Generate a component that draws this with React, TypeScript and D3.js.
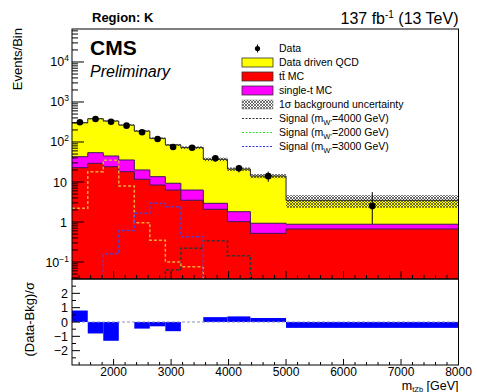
import React from "react";
import * as d3 from "d3";

// ---- data ----
const binEdges = [1276, 1550, 1820, 2090, 2360, 2630, 2900, 3170, 3560, 3980, 4380, 5000, 8000];
const ttbarMC = [22.8, 29.3, 24.1, 18.1, 11.7, 8.4, 6.3, 3.5, 2.08, 1.02, 0.52, 0.67];
const singleTopMC = [20.1, 24.7, 20.6, 17.4, 8.3, 5.2, 3.0, 2.8, 0.85, 0.79, 0.41, 0.21];
const qcdDriven = [261, 328, 290, 230, 168, 110, 75, 66, 34, 19.2, 13.2, 2.6];
const bkgUncRel = [0.04, 0.04, 0.04, 0.04, 0.05, 0.05, 0.06, 0.08, 0.1, 0.1, 0.12, 0.35];
const dataCounts = [311, 376, 322, 256, 175, 119, 75, 72, 39, 22, 14, 2.5];
const dataErrLo = [17.6, 19.4, 17.9, 16, 13.2, 10.9, 8.7, 8.5, 6.2, 4.7, 3.8, 1.6];
const dataErrHi = [17.6, 19.4, 17.9, 16, 13.2, 10.9, 8.7, 8.5, 6.2, 4.7, 4.2, 3.1];
const sig4000 = [0, 0, 0, 0, 0, 0, 0.063, 0.22, 0.34, 0.144, 0, 0];
const sig2000 = [2.2, 18.1, 35, 7.9, 0.96, 0.35, 0.1, 0.076, 0, 0, 0, 0];
const sig3000 = [0, 0, 0.16, 0.61, 1.65, 2.93, 2.41, 0.43, 0, 0, 0, 0];
const pull = [0.8, -0.8, -1.31, 0, -0.46, -0.3, -0.64, 0, 0.34, 0.39, 0.28, -0.41];

const xMajorTicks = [2000, 3000, 4000, 5000, 6000, 7000, 8000];
const yDecades = [1e-1, 1, 10, 1e2, 1e3, 1e4];
const yDecadeLabels = [["10", "\u22121"], ["1", ""], ["10", ""], ["10", "2"], ["10", "3"], ["10", "4"]];
const pullTicks = [-2, -1, 0, 1, 2];

const legendLabels = [
  "Data",
  "Data driven QCD",
  "tt\u0304 MC",
  "single-t MC",
  "1\u03c3 background uncertainty",
  "4000",
  "2000",
  "3000",
];

// ---- layout ----
const W = 477, H = 392;
const L = 72, R = 458.5, T = 29, MID = 279, B = 365;
const FONT = "'Liberation Sans', Arial, Helvetica, sans-serif";

const COL_QCD = "#ffff00";
const COL_TT = "#ff0000";
const COL_ST = "#ff00ff";
const COL_EDGE = "#3a1a5a";

export default function App() {
  const x = d3.scaleLinear().domain([binEdges[0], 8000]).range([L, R]);
  const y = d3.scaleLog().domain([0.0376, 66800]).range([MID, T]);
  const yp = d3.scaleLinear().domain([-3, 3]).range([B, MID]);

  const n = ttbarMC.length;
  const cumTT = ttbarMC;
  const cumST = ttbarMC.map((v, i) => v + singleTopMC[i]);
  const total = cumST.map((v, i) => v + qcdDriven[i]);

  const yv = (v: number) => (v > 0 ? Math.min(y(v), MID + 2) : MID + 2);
  const stepPts = (vals: number[]) => binEdges.map((e, i) => ({ e, v: vals[Math.min(i, n - 1)] }));

  const areaOf = (vals: number[]) =>
    d3.area<{ e: number; v: number }>()
      .x((d) => x(d.e))
      .y0(MID + 2)
      .y1((d) => yv(d.v))
      .curve(d3.curveStepAfter)(stepPts(vals)) || "";

  const lineOf = (vals: number[]) =>
    d3.line<{ e: number; v: number }>()
      .x((d) => x(d.e))
      .y((d) => yv(d.v))
      .curve(d3.curveStepAfter)(stepPts(vals)) || "";

  const minorLog: number[] = [];
  for (let p = -2; p <= 4; p++) {
    for (let k = 2; k <= 9; k++) {
      const v = k * Math.pow(10, p);
      if (v > 0.0376 && v < 66800) minorLog.push(v);
    }
  }
  const minorX: number[] = [];
  for (let v = 1400; v < 8000; v += 200) if (v % 1000 !== 0) minorX.push(v);
  const minorPull: number[] = [];
  for (let v = -2.5; v <= 2.5; v += 1) minorPull.push(v);

  const legendY = (i: number) => 48.5 + 14 * i;
  const LX0 = 242, LX1 = 273, LTX = 279;

  const sigStyles = [
    { vals: sig4000, color: "#333333", legend: "#333333" },
    { vals: sig2000, color: "#e8a838", legend: "#33dd33" },
    { vals: sig3000, color: "#5a3cc8", legend: "#3333dd" },
  ];

  return (
    <svg width={W} height={H} style={{ position: "absolute", left: 0, top: 0, background: "#fff" }} fontFamily={FONT}>
      <defs>
        <clipPath id="clipTop">
          <rect x={L} y={T} width={R - L} height={MID - T} />
        </clipPath>
        <clipPath id="clipBot">
          <rect x={L} y={MID} width={R - L} height={B - MID} />
        </clipPath>
        <pattern id="hatch" patternUnits="userSpaceOnUse" width={3} height={3}>
          <path d="M0,0 L3,3 M3,0 L0,3" stroke="#333" strokeWidth={0.7} />
        </pattern>
      </defs>

      {/* ---- upper panel ---- */}
      <g clipPath="url(#clipTop)">
        <path d={areaOf(total)} fill={COL_QCD} />
        <path d={areaOf(cumST)} fill={COL_ST} />
        <path d={areaOf(cumTT)} fill={COL_TT} />
        <path d={lineOf(cumTT)} fill="none" stroke={COL_EDGE} strokeWidth={1} />
        <path d={lineOf(cumST)} fill="none" stroke={COL_EDGE} strokeWidth={1} />
        <path d={lineOf(total)} fill="none" stroke="#222" strokeWidth={1} />
        {total.map((t, i) => (
          <rect
            key={"h" + i}
            x={x(binEdges[i])}
            width={x(binEdges[i + 1]) - x(binEdges[i])}
            y={y(t * (1 + bkgUncRel[i]))}
            height={y(t * (1 - bkgUncRel[i])) - y(t * (1 + bkgUncRel[i]))}
            fill="url(#hatch)"
          />
        ))}
        {sigStyles.map((s, k) => (
          <path key={"s" + k} d={lineOf(s.vals)} fill="none" stroke={s.color} strokeWidth={1.5} strokeDasharray="3,2" />
        ))}
        {dataCounts.map((v, i) => {
          const cx = x((binEdges[i] + binEdges[i + 1]) / 2);
          return (
            <g key={"d" + i}>
              <line x1={cx} x2={cx} y1={y(v + dataErrHi[i])} y2={y(v - dataErrLo[i])} stroke="#000" strokeWidth={1} />
              <circle cx={cx} cy={y(v)} r={3.3} fill="#000" />
            </g>
          );
        })}
      </g>

      {/* upper axes */}
      <rect x={L} y={T} width={R - L} height={MID - T} fill="none" stroke="#000" strokeWidth={1} />
      {yDecades.map((v, i) => (
        <g key={"yd" + i}>
          <line x1={L} x2={L + 12} y1={y(v)} y2={y(v)} stroke="#000" />
          <text x={yDecadeLabels[i][1] ? 69 : 67} y={y(v) + 4.5} textAnchor="end" fontSize={12.5} fill="#000">
            {yDecadeLabels[i][0]}
            {yDecadeLabels[i][1] ? (
              <tspan dy={-5} fontSize={8.5}>{yDecadeLabels[i][1]}</tspan>
            ) : null}
          </text>
        </g>
      ))}
      {minorLog.map((v, i) => (
        <line key={"ym" + i} x1={L} x2={L + 6} y1={y(v)} y2={y(v)} stroke="#000" />
      ))}
      {xMajorTicks.map((v) => (
        <line key={"xt" + v} x1={x(v)} x2={x(v)} y1={MID} y2={MID - 8} stroke="#000" />
      ))}
      {minorX.map((v) => (
        <line key={"xm" + v} x1={x(v)} x2={x(v)} y1={MID} y2={MID - 4} stroke="#000" />
      ))}

      {/* ---- ratio panel ---- */}
      <g clipPath="url(#clipBot)">
        {pull.map((p, i) =>
          p !== 0 ? (
            <rect
              key={"p" + i}
              x={x(binEdges[i])}
              width={x(binEdges[i + 1]) - x(binEdges[i])}
              y={Math.min(yp(p), yp(0))}
              height={Math.abs(yp(p) - yp(0))}
              fill="#0000ff"
            />
          ) : null
        )}
        <line x1={L} x2={R} y1={yp(0)} y2={yp(0)} stroke="#8890c0" strokeDasharray="3,2" strokeWidth={1} />
      </g>
      <rect x={L} y={MID} width={R - L} height={B - MID} fill="none" stroke="#000" strokeWidth={1} />
      {pullTicks.map((v) => (
        <g key={"pt" + v}>
          <line x1={L} x2={L + 8} y1={yp(v)} y2={yp(v)} stroke="#000" />
          <text x={68} y={yp(v) + 4.5} textAnchor="end" fontSize={12.5}>
            {v < 0 ? "\u2212" + Math.abs(v) : String(v)}
          </text>
        </g>
      ))}
      {minorPull.map((v) => (
        <line key={"pm" + v} x1={L} x2={L + 4} y1={yp(v)} y2={yp(v)} stroke="#000" />
      ))}
      {xMajorTicks.map((v) => (
        <g key={"bx" + v}>
          <line x1={x(v)} x2={x(v)} y1={B} y2={B - 6} stroke="#000" />
          <text x={x(v)} y={B + 10.5} textAnchor="middle" fontSize={12}>
            {v}
          </text>
        </g>
      ))}
      {minorX.map((v) => (
        <line key={"bm" + v} x1={x(v)} x2={x(v)} y1={B} y2={B - 3} stroke="#000" />
      ))}

      {/* axis titles */}
      <text x={R} y={389.5} textAnchor="end" fontSize={12.5}>
        m<tspan dy={2} fontSize={7.5}>tZb</tspan>
        <tspan dy={-2}> [GeV]</tspan>
      </text>
      <text transform={`translate(22,${T - 1}) rotate(-90)`} textAnchor="end" fontSize={13}>
        Events/Bin
      </text>
      <text transform={`translate(34,${MID + 3}) rotate(-90)`} textAnchor="end" fontSize={13}>
        (Data-Bkg)/{"\u03c3"}
      </text>

      {/* header */}
      <text x={92} y={22} fontSize={13} fontWeight="bold">Region: K</text>
      <text x={R} y={24} textAnchor="end" fontSize={16}>
        137 fb<tspan dy={-6} fontSize={10}>-1</tspan>
        <tspan dy={6}> (13 TeV)</tspan>
      </text>
      <text x={90} y={55} fontSize={21} fontWeight="bold">CMS</text>
      <text x={90} y={77} fontSize={16} fontStyle="italic">Preliminary</text>

      {/* legend */}
      <g fontSize={10.5}>
        <line x1={(LX0 + LX1) / 2} x2={(LX0 + LX1) / 2} y1={legendY(0) - 4} y2={legendY(0) + 4} stroke="#000" />
        <circle cx={(LX0 + LX1) / 2} cy={legendY(0)} r={2.6} fill="#000" />
        {[COL_QCD, COL_TT, COL_ST].map((c, i) => (
          <rect key={"lb" + i} x={LX0} y={legendY(i + 1) - 4.5} width={LX1 - LX0} height={9} fill={c} stroke="#333" strokeWidth={0.8} />
        ))}
        <rect x={LX0} y={legendY(4) - 4.5} width={LX1 - LX0} height={9} fill="url(#hatch)" stroke="#777" strokeWidth={0.5} />
        {sigStyles.map((s, k) => (
          <line key={"ll" + k} x1={LX0} x2={LX1} y1={legendY(5 + k)} y2={legendY(5 + k)} stroke={s.legend} strokeWidth={1} strokeDasharray="2,1.5" />
        ))}
        {legendLabels.map((lab, i) =>
          i < 5 ? (
            <text key={"lt" + i} x={LTX} y={legendY(i) + 3.8}>{lab}</text>
          ) : (
            <text key={"lt" + i} x={LTX} y={legendY(i) + 3.8}>
              Signal (m<tspan dy={3} fontSize={7.5}>W'</tspan>
              <tspan dy={-3}>={lab} GeV)</tspan>
            </text>
          )
        )}
      </g>
    </svg>
  );
}
